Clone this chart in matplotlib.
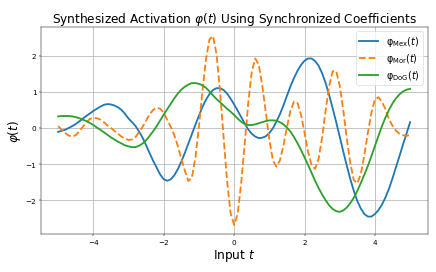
import numpy as np
import matplotlib
matplotlib.use("Agg")
import matplotlib.pyplot as plt

t = np.linspace(-5, 5, 101)

phi_mex = [-0.11, -0.08, -0.05, 0.00, 0.05, 0.11, 0.18, 0.26, 0.33, 0.40,
           0.47, 0.53, 0.59, 0.64, 0.66, 0.65, 0.62, 0.57, 0.50, 0.39,
           0.26, 0.16, 0.05, -0.10, -0.27, -0.48, -0.70, -0.91, -1.10, -1.29,
           -1.42, -1.46, -1.42, -1.31, -1.14, -0.93, -0.69, -0.43, -0.17, 0.09,
           0.34, 0.58, 0.78, 0.94, 1.05, 1.10, 1.10, 1.05, 0.95, 0.81,
           0.65, 0.48, 0.30, 0.12, -0.04, -0.16, -0.24, -0.28, -0.27, -0.23,
           -0.14, -0.01, 0.17, 0.38, 0.62, 0.89, 1.15, 1.38, 1.58, 1.74,
           1.86, 1.92, 1.92, 1.85, 1.72, 1.51, 1.24, 0.91, 0.54, 0.16,
           -0.24, -0.65, -1.04, -1.41, -1.74, -2.02, -2.23, -2.38, -2.45, -2.45,
           -2.38, -2.27, -2.12, -1.92, -1.68, -1.39, -1.08, -0.77, -0.45, -0.15,
           0.16]

phi_mor = [0.05, -0.05, -0.14, -0.21, -0.24, -0.20, -0.09, 0.03, 0.15, 0.25,
           0.28, 0.27, 0.23, 0.16, 0.07, 0.00, -0.08, -0.16, -0.24, -0.30,
           -0.33, -0.32, -0.25, -0.11, 0.03, 0.21, 0.38, 0.50, 0.56, 0.53,
           0.42, 0.22, 0.03, -0.20, -0.50, -0.85, -1.18, -1.47, -1.37, -0.82,
           0.04, 1.03, 1.90, 2.45, 2.54, 2.04, 1.00, -0.25, -1.47, -2.36,
           -2.68, -2.38, -1.53, -0.44, 0.68, 1.55, 1.92, 1.75, 1.17, 0.43,
           -0.32, -0.89, -1.07, -0.90, -0.49, 0.02, 0.47, 0.73, 0.69, 0.37,
           -0.13, -0.66, -1.03, -1.13, -0.85, -0.26, 0.49, 1.16, 1.57, 1.57,
           1.17, 0.50, -0.28, -0.97, -1.44, -1.53, -1.27, -0.75, -0.13, 0.42,
           0.79, 0.85, 0.72, 0.52, 0.24, 0.06, -0.08, -0.16, -0.20, -0.22,
           -0.19]

phi_dog = [0.32, 0.33, 0.33, 0.33, 0.32, 0.30, 0.27, 0.23, 0.19, 0.14,
           0.08, 0.01, -0.05, -0.12, -0.19, -0.26, -0.32, -0.38, -0.43, -0.48,
           -0.51, -0.53, -0.53, -0.49, -0.43, -0.34, -0.22, -0.09, 0.05, 0.21,
           0.37, 0.52, 0.67, 0.82, 0.95, 1.06, 1.14, 1.20, 1.24, 1.24,
           1.22, 1.18, 1.11, 1.01, 0.90, 0.80, 0.71, 0.62, 0.53, 0.45,
           0.36, 0.26, 0.17, 0.11, 0.08, 0.08, 0.10, 0.13, 0.16, 0.19,
           0.21, 0.21, 0.20, 0.16, 0.10, 0.01, -0.10, -0.25, -0.42, -0.61,
           -0.81, -1.02, -1.24, -1.46, -1.66, -1.84, -2.00, -2.14, -2.24, -2.30,
           -2.32, -2.28, -2.20, -2.08, -1.93, -1.74, -1.52, -1.29, -1.05, -0.78,
           -0.50, -0.22, 0.05, 0.29, 0.50, 0.68, 0.82, 0.93, 1.01, 1.06,
           1.08]

labels = ["φ$_{\\mathrm{Mex}}(t)$", "φ$_{\\mathrm{Mor}}(t)$", "φ$_{\\mathrm{DoG}}(t)$"]

fig, ax = plt.subplots(figsize=(10, 6.26), dpi=43.6)
fig.subplots_adjust(left=0.093, right=0.981, top=0.899, bottom=0.138)

ax.plot(t, phi_mex, color="#1f77b4", lw=3, label=labels[0])
ax.plot(t, phi_mor, color="#ff7f0e", lw=3, ls="--", label=labels[1])
ax.plot(t, phi_dog, color="#2ca02c", lw=3, label=labels[2])

ax.set_title(r"Synthesized Activation $\varphi(t)$ Using Synchronized Coefficients", fontsize=20)
ax.set_xlabel(r"Input $t$", fontsize=20)
ax.set_ylabel(r"$\varphi(t)$", fontsize=20)
ax.tick_params(labelsize=12)
ax.grid(True, lw=1.5, alpha=0.8)
ax.legend(loc="upper right", fontsize=16, labelspacing=0.3, borderpad=0.3)

fig.savefig("out.png", dpi=43.6)
